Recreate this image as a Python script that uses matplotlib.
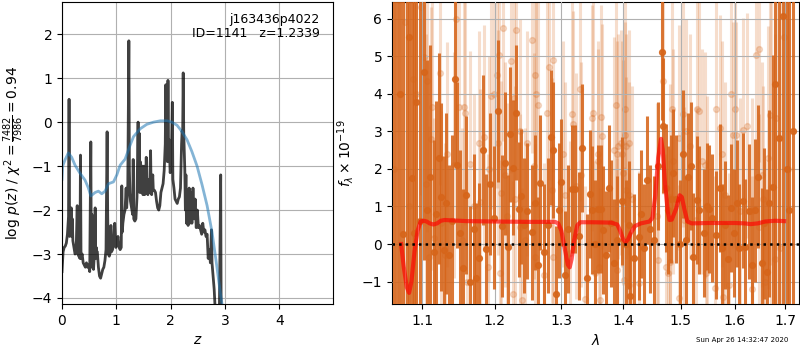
import numpy as np
import matplotlib
matplotlib.use("Agg")
import matplotlib.pyplot as plt

# ---------------- left panel: redshift PDF ----------------
z_grid = [0.00, 0.02, 0.04, 0.06, 0.08, 0.10, 0.12, 0.13, 0.14, 0.15, 0.16, 0.17, 0.18, 0.19, 0.20,
          0.22, 0.24, 0.26, 0.28, 0.29, 0.31, 0.33, 0.34, 0.35, 0.37, 0.39, 0.41, 0.43, 0.45, 0.47,
          0.49, 0.51, 0.53, 0.54, 0.55, 0.56, 0.57, 0.58, 0.60, 0.61, 0.62, 0.63, 0.64, 0.65, 0.67,
          0.69, 0.71, 0.73, 0.75, 0.77, 0.79, 0.81, 0.83, 0.84, 0.85, 0.87, 0.89, 0.90, 0.91, 0.93,
          0.95, 0.97, 0.99, 1.01, 1.03, 1.05, 1.07, 1.09, 1.10, 1.11, 1.12, 1.14, 1.16, 1.18, 1.19,
          1.21, 1.23, 1.24, 1.25, 1.26, 1.28, 1.30, 1.31, 1.32, 1.34, 1.36, 1.38, 1.40, 1.41, 1.42,
          1.43, 1.44, 1.46, 1.47, 1.48, 1.49, 1.50, 1.51, 1.52, 1.54, 1.55, 1.56, 1.58, 1.60, 1.61,
          1.63, 1.64, 1.65, 1.67, 1.68, 1.70, 1.72, 1.74, 1.76, 1.78, 1.80, 1.82, 1.84, 1.86, 1.88,
          1.90, 1.91, 1.92, 1.93, 1.94, 1.95, 1.96, 1.97, 1.99, 2.01, 2.03, 2.04, 2.06, 2.08, 2.10,
          2.12, 2.14, 2.16, 2.18, 2.20, 2.21, 2.22, 2.23, 2.24, 2.25, 2.26, 2.27, 2.28, 2.29, 2.31,
          2.32, 2.34, 2.35, 2.37, 2.39, 2.41, 2.43, 2.45, 2.47, 2.49, 2.51, 2.53, 2.55, 2.57, 2.59,
          2.61, 2.63, 2.65, 2.67, 2.69, 2.71, 2.73, 2.75, 2.76, 2.78, 2.80, 2.82, 2.85, 2.89, 2.92,
          2.93, 2.95]
log_pz = [-3.40, -2.95, -2.85, -2.82, -2.75, -2.55, -2.15, 0.52, -2.60, -2.00, -2.50, -1.95, -2.60, -2.20, -2.70,
          -2.85, -3.00, -2.95, -1.90, -3.00, -3.05, -3.10, -0.75, -3.10, -3.00, -3.20, -3.25, -3.30, -3.20, -3.30,
          -3.25, -3.40, -0.45, -3.30, -2.10, -3.00, -2.80, -3.35, -2.90, -1.95, -3.10, -2.85, -2.95, -2.95, -3.30,
          -3.50, -3.55, -3.45, -3.35, -3.30, -3.15, -2.90, -0.22, -2.00, -3.00, -3.05, -2.95, -2.35, -2.95, -2.90,
          -2.70, -2.30, -2.85, -2.75, -2.60, -2.85, -2.90, -2.85, -1.45, -2.50, -2.30, -2.10, -2.00, -1.50, -1.95,
          -1.50, 1.85, -1.10, -1.60, -1.80, -1.95, -2.10, -0.85, -2.20, -2.25, -2.20, -1.70, 0.00, -1.50, -0.25,
          -1.60, -0.90, -1.60, -1.50, -1.00, -1.65, -1.55, -1.00, -1.65, -1.60, -0.80, -1.55, -1.65, -1.30, -1.60,
          -0.65, -1.55, -1.65, -1.20, -1.55, -1.55, -1.60, -1.80, -1.95, -2.00, -1.90, -1.60, -1.50, -1.40, -1.10,
          -0.50, 0.85, -0.30, 0.70, -0.90, 0.95, -0.60, -0.40, -1.15, -1.00, 0.45, -1.30, -1.50, -1.75, -1.80,
          -1.85, -1.75, -1.70, -1.50, -0.50, -0.20, -0.30, 1.12, -0.25, -0.70, -1.10, -2.00, -1.20, -2.30, -1.60,
          -2.35, -1.50, -2.30, -1.60, -2.30, -1.50, -2.20, -1.75, -2.40, -2.00, -2.40, -2.35, -2.45, -2.55, -2.30,
          -2.50, -2.45, -2.60, -2.55, -3.10, -2.90, -3.20, -2.45, -3.20, -3.50, -3.80, -4.30, -4.80, -5.00, -1.20,
          -5.00, -6.00]

z_prior = [0.00, 0.012, 0.055, 0.117, 0.178, 0.24, 0.33, 0.424, 0.486, 0.53, 0.61, 0.67, 0.732, 0.793,
           0.855, 0.947, 1.009, 1.07, 1.162, 1.255, 1.316, 1.44, 1.56, 1.685, 1.81, 1.93, 2.02, 2.116,
           2.21, 2.30, 2.39, 2.485, 2.578, 2.67, 2.76, 2.84, 2.915, 2.965]
log_prior = [-1.30, -1.00, -0.86, -0.70, -0.80, -0.98, -1.16, -1.32, -1.50, -1.68, -1.60, -1.57, -1.63, -1.57,
             -1.40, -1.36, -1.20, -0.98, -0.84, -0.52, -0.33, -0.15, -0.05, 0.00, 0.03, 0.03, 0.00, -0.07,
             -0.22, -0.40, -0.67, -1.00, -1.43, -1.90, -2.50, -3.20, -3.90, -4.30]

chi2_min = 7482
dof = 7986
root = "j163436p4022"
obj_id = 1141
z_best = 1.2339

# ---------------- right panel: 1D spectrum ----------------
wave_a = [1.0635, 1.0680, 1.0715, 1.0757, 1.0800, 1.0835, 1.0865, 1.0900, 1.0925, 1.0970, 1.1030, 1.1070,
          1.1110, 1.1155, 1.1190, 1.1220, 1.1250, 1.1295, 1.1318, 1.1360, 1.1400, 1.1445, 1.1470, 1.1510,
          1.1553, 1.1596, 1.1650, 1.1700, 1.1740, 1.1780, 1.1830, 1.1877, 1.1940, 1.1990, 1.2055, 1.2100,
          1.2145, 1.2190, 1.2220, 1.2265, 1.2310, 1.2360, 1.2390, 1.2430, 1.2480, 1.2550, 1.2600, 1.2640,
          1.2670, 1.2730, 1.2795, 1.2835, 1.2875, 1.2920, 1.2960, 1.2997, 1.3050, 1.3110, 1.3165, 1.3220,
          1.3280, 1.3320, 1.3400, 1.3460, 1.3480, 1.3530, 1.3590, 1.3630, 1.3660, 1.3710, 1.3770, 1.3790,
          1.3850, 1.3900, 1.3985, 1.4040, 1.4095, 1.4120, 1.4180, 1.4270, 1.4310, 1.4360, 1.4400, 1.4460,
          1.4530, 1.4590, 1.4670, 1.4690, 1.4730, 1.4770, 1.4830, 1.4860, 1.4920, 1.4980, 1.5040, 1.5090,
          1.5130, 1.5190, 1.5230, 1.5290, 1.5340, 1.5430, 1.5480, 1.5520, 1.5580, 1.5640, 1.5720, 1.5770,
          1.5820, 1.5870, 1.5930, 1.5990, 1.6040, 1.6090, 1.6170, 1.6210, 1.6280, 1.6340, 1.6390, 1.6460,
          1.6530, 1.6570, 1.6640, 1.6680, 1.6750, 1.6800, 1.6870, 1.6960, 1.7030, 1.7085, 1.7160]
flux_a = [7.50, -2.50, 4.00, 0.27, -2.00, 5.50, 1.75, 0.29, 3.78, 0.60, 4.57, 0.90,
          1.79, -0.22, 0.80, 2.28, 1.25, -0.16, 1.08, -0.29, 0.60, 4.38, 2.10, 0.30,
          -0.63, 1.30, -1.00, 0.40, -0.90, -0.37, 2.50, -0.13, 1.60, 0.70, 3.54, 0.48,
          2.15, -0.07, 2.92, 2.03, 3.50, 0.92, 1.27, 0.50, 0.88, 0.31, 1.10, -0.56,
          1.63, -0.20, 0.50, 2.84, 2.50, -1.33, 0.90, 1.64, -0.83, 0.40, 1.46, 1.46,
          0.22, 2.55, -0.90, 1.33, 0.90, 0.00, 0.93, 0.93, 0.37, -0.30, 1.48, 0.55,
          -0.50, 0.10, 1.14, 0.00, 0.50, -1.37, -0.38, 0.20, 0.80, -0.10, 1.70, 0.40,
          0.10, 2.08, 5.11, 3.15, 1.50, 0.90, 1.20, 1.90, 1.20, 0.00, 2.40, 0.10,
          1.79, 2.08, -0.34, 1.17, 0.90, 0.30, 1.00, 0.93, 0.70, 0.25, 1.50, -0.10,
          0.50, -0.40, 0.95, 0.30, 1.08, -0.10, 1.15, -0.07, 0.87, -0.55, 0.90, 1.79,
          -0.50, 0.55, -0.74, 1.08, 1.52, 4.25, 2.81, 6.06, 2.00, 0.90, 3.00]
err_a = [10.0, 10.0, 10.0, 9.0, 9.0, 9.0, 8.0, 8.0, 7.0, 6.0, 5.0, 4.0,
         3.5, 3.0, 3.0, 2.8, 2.5, 2.5, 2.4, 2.4, 2.3, 2.3, 2.2, 2.2,
         2.1, 2.1, 2.0, 2.0, 2.0, 2.0, 2.0, 2.0, 1.9, 1.9, 1.9, 1.9,
         1.9, 1.9, 1.8, 1.8, 1.8, 1.8, 1.8, 1.8, 1.8, 1.8, 1.8, 1.8,
         1.8, 1.8, 1.8, 1.8, 1.8, 1.8, 1.8, 1.7, 1.7, 1.7, 1.7, 1.7,
         1.7, 1.7, 1.7, 1.7, 1.7, 1.7, 1.7, 1.7, 1.7, 1.7, 1.7, 1.7,
         1.7, 1.7, 1.7, 1.7, 1.7, 1.7, 1.7, 1.7, 1.7, 1.7, 1.7, 1.7,
         1.7, 1.7, 1.8, 1.8, 1.7, 1.7, 1.7, 1.7, 1.7, 1.7, 1.7, 1.7,
         1.7, 1.7, 1.7, 1.7, 1.7, 1.7, 1.7, 1.7, 1.7, 1.7, 1.7, 1.7,
         1.7, 1.7, 1.7, 1.7, 1.7, 1.7, 1.8, 1.8, 1.8, 1.8, 1.9, 1.9,
         2.0, 2.0, 2.2, 2.5, 3.5, 6.0, 9.0, 10.0, 10.0, 10.0, 10.0]

wave_b = [1.0640, 1.0700, 1.0777, 1.0830, 1.0880, 1.0920, 1.0980, 1.1030, 1.1050, 1.1066, 1.1090, 1.1120,
          1.1135, 1.1160, 1.1240, 1.1255, 1.1300, 1.1340, 1.1430, 1.1460, 1.1495, 1.1545, 1.1560, 1.1580,
          1.1605, 1.1650, 1.1700, 1.1780, 1.1795, 1.1850, 1.1900, 1.1920, 1.1950, 1.1990, 1.2030, 1.2050,
          1.2065, 1.2080, 1.2095, 1.2127, 1.2145, 1.2175, 1.2235, 1.2270, 1.2285, 1.2295, 1.2305, 1.2365,
          1.2375, 1.2400, 1.2440, 1.2470, 1.2550, 1.2580, 1.2590, 1.2600, 1.2615, 1.2640, 1.2735, 1.2785,
          1.2810, 1.2860, 1.2865, 1.2875, 1.3020, 1.3050, 1.3140, 1.3160, 1.3180, 1.3230, 1.3295, 1.3305,
          1.3370, 1.3490, 1.3505, 1.3530, 1.3580, 1.3590, 1.3600, 1.3610, 1.3640, 1.3650, 1.3850, 1.3880,
          1.3890, 1.3900, 1.3920, 1.3970, 1.3980, 1.4000, 1.4010, 1.4030, 1.4035, 1.4040, 1.4050, 1.4095,
          1.4100, 1.4105, 1.4150, 1.4270, 1.4580, 1.4590, 1.4690, 1.4730, 1.4780, 1.4800, 1.4810, 1.4850,
          1.4860, 1.4960, 1.4970, 1.5040, 1.5060, 1.5095, 1.5170, 1.5280, 1.5290, 1.5340, 1.5390, 1.5450,
          1.5470, 1.5480, 1.5630, 1.5640, 1.5720, 1.5760, 1.5780, 1.5820, 1.5900, 1.5930, 1.5980, 1.6000,
          1.6030, 1.6100, 1.6170, 1.6250, 1.6340, 1.6345, 1.6410, 1.6470, 1.6480, 1.6530, 1.6550, 1.6600,
          1.6650, 1.6700, 1.6720, 1.6800, 1.6820, 1.6900, 1.6980, 1.7050]
flux_b = [2.00, 6.50, 5.91, 1.00, 4.38, 4.00, 6.30, 4.98, 1.60, 4.33, -0.35, 2.80,
          3.65, 0.15, 4.56, 0.55, -0.30, 2.39, 2.10, 6.00, 3.65, 0.10, 3.66, 3.50,
          -1.00, 2.13, 1.00, 2.68, 1.12, 2.84, -0.60, 2.00, 3.94, 4.00, 4.50, 2.70,
          5.03, -0.77, 1.35, 5.74, 1.85, 0.75, 4.88, -1.33, 3.90, 1.20, 5.71, 0.45,
          3.00, -1.50, 0.10, 2.68, 5.43, 2.08, -0.34, 4.49, 4.00, 3.70, -0.83, 3.50,
          4.70, 1.43, 4.91, -0.34, 2.40, 1.30, -0.25, 3.46, 3.20, 1.55, 4.14, 1.85,
          -1.45, 3.35, 3.50, -0.78, 2.40, 2.20, -0.60, -1.50, 3.37, 2.87, 2.50, 3.70,
          -0.70, 2.40, 2.60, 2.70, 2.40, 1.90, -0.95, 3.59, 2.90, 1.45, 2.60, -1.10,
          2.70, 1.30, 1.20, -1.05, 0.75, -0.43, 4.33, -0.60, -0.77, 1.25, -0.47, 3.59,
          2.20, 2.83, -1.43, 3.45, 0.65, 3.00, 2.60, 0.65, 3.59, 3.55, 2.20, 2.10,
          -0.77, 0.93, -1.18, 3.60, 3.10, 2.40, -1.40, 1.30, -1.10, 4.00, 2.90, 3.60,
          2.90, 0.88, 3.03, 3.15, 0.88, -1.20, 5.03, 0.45, 5.18, 1.85, 1.20, -1.00,
          2.30, 3.43, 1.52, -0.40, 3.35, -0.10, 5.50, 2.00]
err_b = [9.0, 9.0, 8.0, 8.0, 7.0, 6.0, 5.0, 4.5, 4.0, 4.0, 3.5, 3.5,
         3.5, 3.2, 3.0, 3.0, 3.0, 3.0, 3.0, 3.0, 3.0, 3.0, 3.0, 3.0,
         3.0, 3.0, 3.0, 3.0, 3.0, 3.0, 3.0, 3.0, 3.0, 3.0, 3.0, 3.0,
         3.0, 3.0, 3.0, 3.0, 3.0, 3.0, 3.0, 3.0, 3.0, 3.0, 3.0, 3.0,
         3.0, 3.0, 3.0, 3.0, 3.0, 3.0, 3.0, 3.0, 3.0, 3.0, 3.0, 3.0,
         3.0, 3.0, 3.0, 3.0, 3.0, 3.0, 3.0, 3.0, 3.0, 3.0, 3.0, 3.0,
         3.0, 3.0, 3.0, 3.0, 3.0, 3.0, 3.0, 3.0, 3.0, 3.0, 3.0, 3.0,
         3.0, 3.0, 3.0, 3.0, 3.0, 3.0, 3.0, 3.0, 3.0, 3.0, 3.0, 3.0,
         3.0, 3.0, 3.0, 3.0, 3.0, 3.0, 3.0, 3.0, 3.0, 3.0, 3.0, 3.0,
         3.0, 3.0, 3.0, 3.0, 3.0, 3.0, 3.0, 3.0, 3.0, 3.0, 3.0, 3.0,
         3.0, 3.0, 3.0, 3.0, 3.0, 3.0, 3.0, 3.0, 3.0, 3.0, 3.0, 3.0,
         3.0, 3.0, 3.0, 3.0, 3.0, 3.0, 3.0, 3.0, 3.0, 3.0, 3.0, 3.2,
         3.5, 4.0, 5.0, 6.0, 8.0, 9.0, 10.0, 10.0]

wave_model = [1.0727, 1.0760, 1.0800, 1.0830, 1.0860, 1.0900, 1.0940, 1.0980, 1.1020, 1.1060, 1.1100,
              1.1150, 1.1200, 1.1250, 1.1300, 1.1400, 1.1600, 1.2000, 1.2500, 1.2900, 1.2950, 1.3000,
              1.3050, 1.3100, 1.3130, 1.3160, 1.3200, 1.3250, 1.3300, 1.3500, 1.3800, 1.3900, 1.3950,
              1.4000, 1.4040, 1.4080, 1.4130, 1.4200, 1.4300, 1.4450, 1.4500, 1.4550, 1.4600, 1.4650,
              1.4680, 1.4720, 1.4770, 1.4800, 1.4840, 1.4920, 1.4980, 1.5020, 1.5070, 1.5120, 1.5200,
              1.5500, 1.6000, 1.6200, 1.6310, 1.6450, 1.6600, 1.6800, 1.6980]
flux_model = [0.00, -0.60, -1.15, -1.30, -1.00, -0.20, 0.35, 0.60, 0.62, 0.60, 0.55,
              0.52, 0.55, 0.62, 0.64, 0.63, 0.61, 0.60, 0.59, 0.59, 0.55, 0.35,
              -0.10, -0.55, -0.62, -0.40, 0.10, 0.50, 0.58, 0.58, 0.57, 0.52, 0.35,
              0.12, 0.05, 0.12, 0.30, 0.48, 0.55, 0.60, 0.70, 1.30, 2.30, 2.80,
              2.50, 1.60, 0.85, 0.64, 0.65, 0.95, 1.30, 1.25, 0.90, 0.60, 0.55,
              0.56, 0.56, 0.55, 0.53, 0.55, 0.60, 0.62, 0.61]

timestamp = "Sun Apr 26 14:32:47 2020"

# ---------------- drawing ----------------
fig = plt.figure(figsize=(8, 3.5), dpi=100)
fig.patch.set_facecolor("white")

ax1 = fig.add_axes([0.0775, 0.131, 0.339, 0.863])
ax1.plot(z_grid, log_pz, color="k", alpha=0.75, lw=2)
ax1.plot(z_prior, log_prior, color="tab:blue", alpha=0.55, lw=2)
ax1.set_xlim(0, 4.99)
ax1.set_ylim(-4.14, 2.73)
ax1.set_xticks([0, 1, 2, 3, 4])
ax1.set_yticks([-4, -3, -2, -1, 0, 1, 2])
ax1.grid(True)
ax1.set_xlabel(r"$z$")
ax1.set_ylabel(r"log $p(z)$" + " / " +
               r"$\chi^2=\frac{{{0:d}}}{{{1:d}}}={2:.2f}$".format(chi2_min, dof, chi2_min / dof))
ax1.text(0.95, 0.965, "{0}\nID={1}   z={2:.4f}".format(root, obj_id, z_best),
         transform=ax1.transAxes, ha="right", va="top", fontsize=9, linespacing=1.15)

ax2 = fig.add_axes([0.49, 0.131, 0.509, 0.863])
col = "#d6651a"
ax2.errorbar(wave_b, flux_b, yerr=err_b, color=col, alpha=0.22, marker="o", ms=4.2,
             linestyle="None", elinewidth=2.2, zorder=2)
ax2.errorbar(wave_a, flux_a, yerr=err_a, color=col, alpha=0.88, marker="o", ms=4.2,
             linestyle="None", elinewidth=2.2, zorder=3)
ax2.plot(wave_model, flux_model, color="red", alpha=0.65, lw=3, zorder=4)
ax2.axhline(0, color="k", linestyle=":", lw=1.8, zorder=5)
ax2.set_xscale("log")
ax2.set_xlim(1.061, 1.729)
ax2.set_ylim(-1.6, 6.44)
ticks = [1.1, 1.2, 1.3, 1.4, 1.5, 1.6, 1.7]
ax2.set_xticks(ticks)
ax2.set_xticklabels(["{0:.1f}".format(t) for t in ticks])
ax2.xaxis.set_minor_locator(matplotlib.ticker.NullLocator())
ax2.set_yticks([-1, 0, 1, 2, 3, 4, 5, 6])
ax2.grid(True, zorder=6)
ax2.set_axisbelow(False)
ax2.set_xlabel(r"$\lambda$")
ax2.set_ylabel(r"$f_\lambda\times10^{-19}$")

fig.text(0.985, 0.02, timestamp, ha="right", va="bottom", fontsize=5)

fig.savefig("out.png", dpi=100)
